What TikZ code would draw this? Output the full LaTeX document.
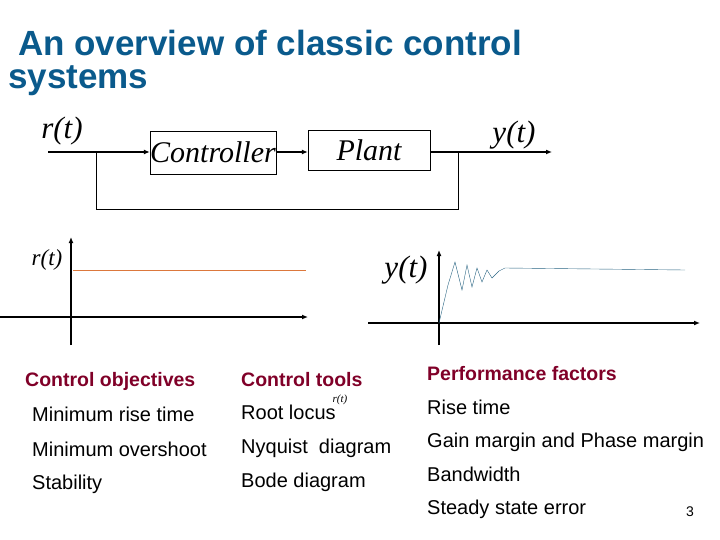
\documentclass[tikz,border=0pt]{standalone}
\usepackage{fontspec}
\setmainfont{Liberation Sans}
\newfontfamily\serifit{Liberation Serif}[Scale=1]
\usetikzlibrary{arrows.meta}
\definecolor{titleblue}{RGB}{10,90,140}
\definecolor{headred}{RGB}{128,0,40}
\definecolor{steporange}{RGB}{220,120,60}
\definecolor{respblue}{RGB}{40,100,130}
\begin{document}
\begin{tikzpicture}[x=1pt,y=-1pt,
  blk/.style={draw,thin,inner sep=0pt,font=\serifit\itshape\fontsize{30}{30}\selectfont},
  lbl/.style={font=\serifit\itshape\fontsize{31}{31}\selectfont,inner sep=0pt},
  smlbl/.style={font=\serifit\itshape\fontsize{23}{23}\selectfont,inner sep=0pt},
  sig/.style={line width=1.6pt,-{Latex[length=6pt,width=5pt]}},
  axis/.style={line width=1.6pt,-{Latex[length=6pt,width=5pt]}},
  head/.style={font=\bfseries\fontsize{19.5}{22}\selectfont,text=headred,anchor=base west,inner sep=0pt},
  item/.style={font=\fontsize{20}{22}\selectfont,anchor=base west,inner sep=0pt},
  ttl/.style={font=\bfseries\fontsize{35}{38}\selectfont,text=titleblue,anchor=base west,inner sep=0pt}]
\useasboundingbox (0,0) rectangle (720,540);
% title
\node[ttl] (t1) at (18,56) {An overview of classic control};
\node[ttl] (t2) at (8,89) {systems};
% block diagram
\node[blk,minimum width=126pt,minimum height=43pt] (ctrl) at (213,152.5) {Controller};
\node[blk,minimum width=122pt,minimum height=40pt] (plant) at (369,150) {Plant};
\coordinate (in) at (48,152);
\coordinate (out) at (552,152);
\coordinate (fbr) at (458,152);
\coordinate (fbl) at (96,152);
\node[lbl] (rt) at (62,131) {r(t)};
\node[lbl] (yt) at (514,135) {y(t)};
\draw[sig] (in) -- (ctrl.west|-in);
\draw[sig] (ctrl.east|-in) -- (plant.west|-in);
\draw[sig] (plant.east|-in) -- (out);
\draw[thin] (fbr) -- (458,209) -- (96,209) -- (fbl);
% left plot
\draw[axis] (71,345) -- (71,237);
\draw[axis] (0,317) -- (308,317);
\draw[steporange,thin] (73,270) -- (306,270);
\node[smlbl] (rl) at (47,260) {r(t)};
% right plot
\draw[axis] (439,345) -- (439,250);
\draw[axis] (368,323) -- (700,323);
\node[lbl] (yl) at (406,270) {y(t)};
\draw[respblue,thin] (439,323) -- (448,285) -- (455,262) -- (462,290) -- (467,265) -- (472,287)
  -- (477,268) -- (482,282) -- (487,270) -- (492,278) -- (499,271) -- (505,268) -- (685,270);
% table
\node[head] (h1) at (25,386) {Control objectives};
\node[head] (h2) at (241,386) {Control tools};
\node[head] (h3) at (427,380) {Performance factors};
\node[item] (a1) at (32,421) {Minimum rise time};
\node[item] (a2) at (32,456) {Minimum overshoot};
\node[item] (a3) at (32,489) {Stability};
\node[item] (b1) at (241,419) {Root locus};
\node[font=\serifit\itshape\fontsize{11}{11}\selectfont,inner sep=0pt] (b1r) at (340,400) {r(t)};
\node[item] (b2) at (241,453) {Nyquist\ \ diagram};
\node[item] (b3) at (241,487) {Bode diagram};
\node[item] (c1) at (427,414) {Rise time};
\node[item] (c2) at (427,447) {Gain margin and Phase margin};
\node[item] (c3) at (427,481) {Bandwidth};
\node[item] (c4) at (427,514) {Steady state error};
\node[font=\fontsize{14}{14}\selectfont,anchor=base west,inner sep=0pt] (pg) at (686,516) {3};
\end{tikzpicture}
\end{document}
